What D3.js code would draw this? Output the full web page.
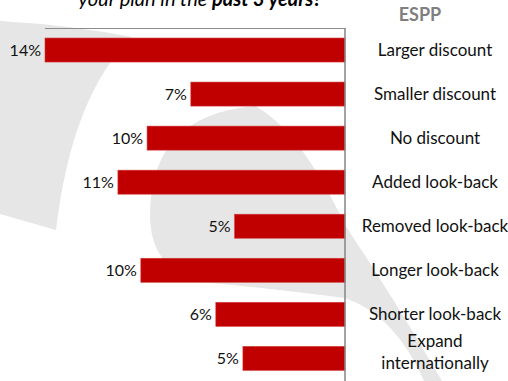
<!DOCTYPE html>
<html>
<head>
<meta charset="utf-8" />
<script src="https://d3js.org/d3.v7.min.js"></script>
<style>
  body { margin: 0; background: #fff; }
  text { font-family: Lato, "Open Sans", sans-serif; }
</style>
</head>
<body>
<svg id="chart" width="508" height="381"></svg>
<script>
var categories = [
  "Larger discount",
  "Smaller discount",
  "No discount",
  "Added look-back",
  "Removed look-back",
  "Longer look-back",
  "Shorter look-back",
  "Expand\ninternationally"
];
var values = [14.4, 7.4, 9.5, 10.9, 5.3, 9.8, 6.2, 4.9];
var seriesName = "ESPP";

var svg = d3.select("#chart");

// faint watermark shapes in the background
var bg = svg.append("g").attr("fill", "#e6e6e6");
bg.append("path").attr("d", "M0,21 Q70,25 132,37 Q72,95 56,230 L0,214 Z");
bg.append("path").attr("d", "M150,215 Q150,115 255,106 Q300,130 345,225 Q395,300 442,381 L424,381 Q395,315 345,298 Q250,286 200,282 Q150,268 150,215 Z");

// title, cut off at the top
var title = svg.append("text")
  .attr("x", 200)
  .attr("y", 6)
  .attr("text-anchor", "middle")
  .attr("font-size", 20)
  .attr("font-style", "italic")
  .attr("fill", "#000");
title.append("tspan").text("your plan in the ");
title.append("tspan").attr("font-weight", "bold").text("past 3 years?");

var x = d3.scaleLinear()
  .domain([0, d3.max(values)])
  .range([345, 45]);

var y = d3.scaleBand()
  .domain(categories)
  .range([28, 380.4])
  .paddingInner(0.455)
  .paddingOuter(0.2275);

// top frame line
svg.append("line")
  .attr("x1", 45).attr("x2", 345)
  .attr("y1", 28.5).attr("y2", 28.5)
  .attr("stroke", "#8c8c8c")
  .attr("stroke-width", 1);

svg.selectAll(".bar")
  .data(values)
  .enter().append("rect")
  .attr("class", "bar")
  .attr("x", function(d) { return x(d); })
  .attr("y", function(d, i) { return y(categories[i]); })
  .attr("width", function(d) { return x(0) - x(d); })
  .attr("height", y.bandwidth())
  .attr("fill", "#c00000")
  .attr("stroke", "#d23a3a")
  .attr("stroke-width", 0.6);

svg.selectAll(".value")
  .data(values)
  .enter().append("text")
  .attr("class", "value")
  .attr("x", function(d) { return x(d) - 4; })
  .attr("y", function(d, i) { return y(categories[i]) + y.bandwidth() / 2; })
  .attr("dy", "0.36em")
  .attr("text-anchor", "end")
  .attr("font-size", 16)
  .attr("fill", "#111")
  .text(function(d) { return Math.round(d) + "%"; });

// the category axis sits on the right edge of the bars
var yAxis = svg.append("g")
  .attr("transform", "translate(345,0)")
  .call(d3.axisRight(y).tickSize(0).tickFormat(""));
yAxis.select(".domain")
  .attr("d", "M0,28V381")
  .attr("stroke", "#858585")
  .attr("stroke-width", 1.5);

svg.selectAll(".cat")
  .data(categories)
  .enter().append("text")
  .attr("class", "cat")
  .attr("text-anchor", "middle")
  .attr("font-size", 17)
  .attr("fill", "#111")
  .attr("transform", function(d) {
    return "translate(435," + (y(d) + y.bandwidth() / 2) + ")";
  })
  .each(function(d) {
    var lines = d.split("\n");
    var t = d3.select(this);
    var shift = lines.length > 1 ? -7 : 0;
    lines.forEach(function(line, k) {
      t.append("tspan")
        .attr("x", 0)
        .attr("y", (k - (lines.length - 1) / 2) * 22 + shift)
        .attr("dy", "0.36em")
        .text(line);
    });
  });

svg.append("text")
  .attr("x", 420)
  .attr("y", 21)
  .attr("text-anchor", "middle")
  .attr("font-size", 18)
  .attr("font-weight", "bold")
  .attr("fill", "#7f7f7f")
  .text(seriesName);
</script>
</body>
</html>
